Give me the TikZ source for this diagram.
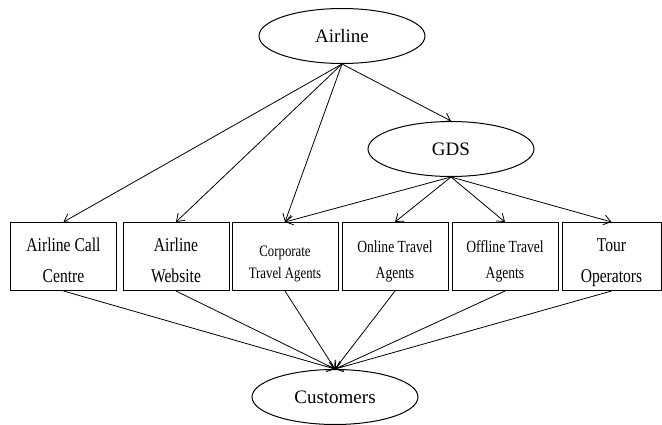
\documentclass[tikz,border=0pt]{standalone}
\usepackage{fontspec}
\setmainfont{Liberation Serif}
\newfontfamily\boxfont{Liberation Serif}[FakeStretch=0.8]
\usetikzlibrary{shapes.geometric,arrows.meta}

\begin{document}
\begin{tikzpicture}[x=1pt,y=-1pt,
  party/.style={draw,ellipse,line width=1pt,minimum width=166pt,minimum height=55pt,inner sep=0pt,font=\fontsize{19}{22}\selectfont},
  channel/.style={draw,rectangle,line width=1pt,minimum width=106pt,minimum height=68pt,inner sep=0pt,align=center,
    font=\boxfont\fontsize{19.5}{32}\selectfont,text height=58pt,text depth=5pt},
  smallchannel/.style={channel,font=\boxfont\fontsize{17}{26}\selectfont,text height=48pt,text depth=5pt},
  tinychannel/.style={channel,font=\boxfont\fontsize{16}{22}\selectfont,text height=48pt,text depth=5pt},
  flow/.style={draw,line width=0.8pt,-{Straight Barb[length=7pt,width=10pt]}}]
\useasboundingbox (0,0) rectangle (662,425);
\node[party] (air) at (342,36) {Airline};
\node[party] (gds) at (451,149) {GDS};
\node[party] (cust) at (335,397) {Customers};
\node[channel] (call) at (63.5,256.5) {Airline Call\\Centre};
\node[channel] (web) at (176,256.5) {Airline\\Website};
\node[tinychannel] (corp) at (285,256.5) {Corporate\\Travel Agents};
\node[smallchannel] (online) at (395,256.5) {Online Travel\\Agents};
\node[smallchannel] (offline) at (505,256.5) {Offline Travel\\Agents};
\node[channel,minimum width=99pt] (tour) at (611.5,256.5) {Tour\\Operators};
\foreach \b in {call,web,corp} \draw[flow] (air.south) -- (\b.north);
\draw[flow] (air.south) -- (gds.north);
\foreach \b in {corp,online,offline,tour} \draw[flow] (gds.south) -- (\b.north);
\foreach \b in {call,web,corp,online,offline,tour} \draw[flow] (\b.south) -- (cust.north);
\end{tikzpicture}
\end{document}
